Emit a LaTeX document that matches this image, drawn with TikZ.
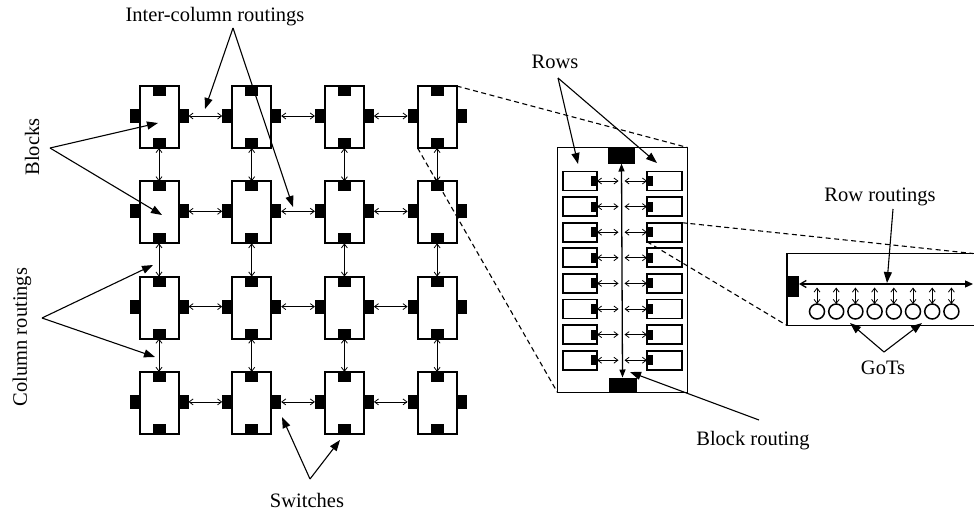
\documentclass[tikz,border=0pt]{standalone}
\usepackage{fontspec}
\setmainfont{Liberation Serif}
\usetikzlibrary{arrows.meta,calc}
\begin{document}
\begin{tikzpicture}[x=1pt,y=-1pt,
  blk/.style={draw, line width=2pt, minimum width=39pt, minimum height=62pt, inner sep=0pt, outer sep=0pt},
  pad/.style={fill=black, inner sep=0pt, outer sep=0pt},
  padh/.style={pad, minimum width=13pt, minimum height=10pt},
  padv/.style={pad, minimum width=10pt, minimum height=14pt},
  rowbox/.style={draw, line width=1.7pt, minimum height=19pt, inner sep=0pt, outer sep=0pt},
  got/.style={circle, draw, line width=1.5pt, minimum size=15pt, inner sep=0pt, outer sep=0pt},
  link/.style={line width=0.8pt, {Straight Barb[length=4pt,width=6pt]}-{Straight Barb[length=4pt,width=6pt]}},
  callout/.style={line width=1.1pt, -{Triangle[length=11pt,width=8pt]}},
  zoomline/.style={line width=1.1pt, dash pattern=on 5pt off 3.5pt},
  lbl/.style={font=\fontsize{20.5}{24}\selectfont, inner sep=0pt}]
\useasboundingbox (0,0) rectangle (974,514);
\clip (0,0) rectangle (974,514);
\fill[white] (0,0) rectangle (974,514);

% ---- grid of blocks ----
\foreach \c in {1,...,4}{
  \foreach \r in {1,...,4}{
    \node[blk] (b\r\c) at ({159+92.7*(\c-1)},{117+95.3*(\r-1)}) {};
    \node[padh, anchor=north] (b\r\c-n) at (b\r\c.north) {};
    \node[padh, anchor=south] (b\r\c-s) at (b\r\c.south) {};
    \node[padv, anchor=east] (b\r\c-w) at ([yshift=1pt]b\r\c.west) {};
    \node[padv, anchor=west] (b\r\c-e) at ([yshift=1pt]b\r\c.east) {};
  }
}
\foreach \r in {1,...,4}{
  \foreach \c/\d in {1/2,2/3,3/4}{
    \draw[link] (b\r\c-e.east) -- (b\r\d-w.west);
  }
}
\foreach \c in {1,...,4}{
  \foreach \r/\s in {1/2,2/3,3/4}{
    \draw[link] (b\r\c.south) -- (b\s\c.north);
  }
}

% ---- block detail ----
\node[draw, line width=1.8pt, minimum width=130pt, minimum height=245pt, inner sep=0pt, outer sep=0pt] (big) at (622.5,270) {};
\node[pad, minimum width=27pt, minimum height=16pt, anchor=north] (bigt) at ([xshift=-1pt]big.north) {};
\node[pad, minimum width=28pt, minimum height=15pt, anchor=south] (bigb) at (big.south) {};
\draw[line width=1.3pt, {Triangle[length=8pt,width=6pt]}-{Triangle[length=8pt,width=6pt]}] (bigt.south) -- (bigb.north);
\foreach \k in {0,...,7}{
  \node[rowbox, minimum width=34pt] (L\k) at (580,{181+25.6*\k}) {};
  \node[pad, minimum width=6pt, minimum height=10pt, anchor=east] (Lp\k) at (L\k.east) {};
  \node[rowbox, minimum width=35pt] (R\k) at (664.5,{181+25.6*\k}) {};
  \node[pad, minimum width=6pt, minimum height=10pt, anchor=west] (Rp\k) at (R\k.west) {};
  \coordinate (cl\k) at (621,{181+25.6*\k});
  \draw[link] (Lp\k.east) -- ([xshift=-2.5pt]cl\k);
  \draw[link] ([xshift=3.5pt]cl\k) -- (Rp\k.west);
}

% ---- row detail ----
\node[draw, line width=1.8pt, minimum width=203pt, minimum height=72pt, inner sep=0pt, outer sep=0pt, anchor=west] (rowd) at (787,289.5) {};
\node[pad, minimum width=12pt, minimum height=21pt, anchor=west] (rowp) at ([yshift=3pt]rowd.west) {};
\coordinate (rre) at (973,284);
\draw[line width=1.3pt, {Straight Barb[length=6pt,width=7pt]}-{Triangle[length=8pt,width=7pt]}] (rowp.east |- rre) -- (rre);
\foreach \k in {0,...,7}{
  \node[got] (g\k) at ({817+19.2*\k},311.5) {};
  \coordinate (ga\k) at ({817+19.2*\k},287.5);
  \draw[link] (ga\k) -- (g\k.north);
}

% ---- zoom lines ----
\coordinate (rowtop) at (rowd.north -| rre);
\draw[zoomline] (b14.north east) -- (big.north east);
\draw[zoomline] (b14.south west) -- (big.south west);
\draw[zoomline] (R2.north east) -- (rowtop);
\draw[zoomline] (R2.south west) -- (rowd.south west);

% ---- labels ----
\node[lbl] (tIC) at (215,17) {Inter-column routings};
\coordinate (icA) at (233,28);
\coordinate (icT1) at (205,109);
\coordinate (icT2) at (293,207);
\draw[callout] (icA) -- (icT1);
\draw[callout] (icA) -- (icT2);

\node[lbl, rotate=90] (tBl) at (32,147) {Blocks};
\coordinate (blA) at (50,148);
\coordinate (blT1) at (158,123);
\coordinate (blT2) at (162,215);
\draw[callout] (blA) -- (blT1);
\draw[callout] (blA) -- (blT2);

\node[lbl, rotate=90] (tCR) at (22,337) {Column routings};
\coordinate (crA) at (42,318);
\coordinate (crT1) at (153,265);
\coordinate (crT2) at (155,357);
\draw[callout] (crA) -- (crT1);
\draw[callout] (crA) -- (crT2);

\node[lbl] (tSw) at (307,500) {Switches};
\coordinate (swA) at (310,479);
\coordinate (swT1) at (282,417);
\coordinate (swT2) at (340,440);
\draw[callout] (swA) -- (swT1);
\draw[callout] (swA) -- (swT2);

\node[lbl] (tRows) at (555,62) {Rows};
\coordinate (rwA) at (558,78);
\coordinate (rwT1) at (578,164);
\coordinate (rwT2) at (657,163);
\draw[callout] (rwA) -- (rwT1);
\draw[callout] (rwA) -- (rwT2);

\node[lbl] (tRR) at (880,197) {Row routings};
\coordinate (rrA) at (893,209);
\coordinate (rrT) at (887,283);
\draw[callout] (rrA) -- (rrT);

\node[lbl] (tGo) at (883,368) {GoTs};
\coordinate (goA) at (884,352);
\coordinate (goT1) at (850,323);
\coordinate (goT2) at (922,323);
\draw[callout] (goA) -- (goT1);
\draw[callout] (goA) -- (goT2);

\node[lbl] (tBR) at (753,441) {Block routing};
\coordinate (brA) at (759,420);
\coordinate (brT) at (630,372);
\draw[callout] (brA) -- (brT);
\end{tikzpicture}
\end{document}
